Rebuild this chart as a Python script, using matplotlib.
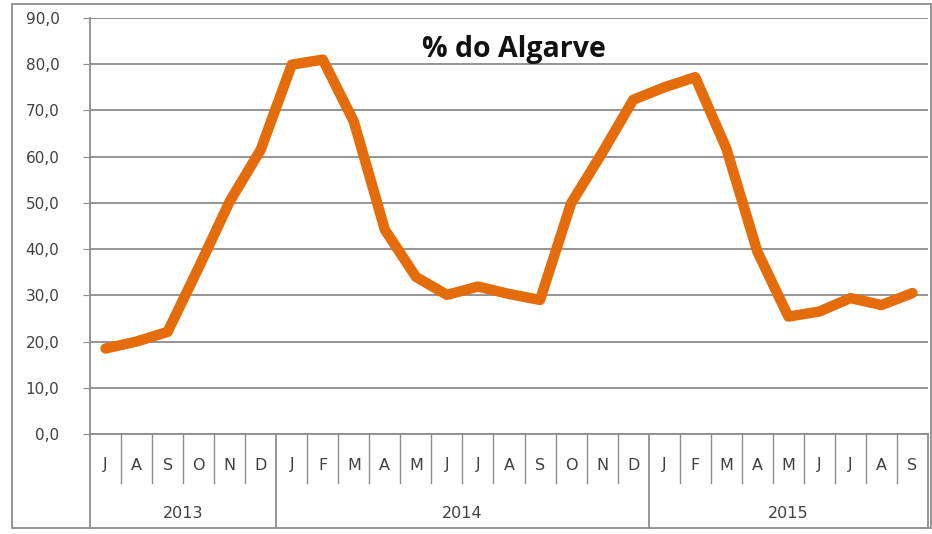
import matplotlib
matplotlib.use("Agg")
import matplotlib.pyplot as plt
from matplotlib.ticker import FuncFormatter, MultipleLocator
from matplotlib.patches import Rectangle
import matplotlib.transforms as mtransforms

months = ["J", "A", "S", "O", "N", "D",
          "J", "F", "M", "A", "M", "J", "J", "A", "S", "O", "N", "D",
          "J", "F", "M", "A", "M", "J", "J", "A", "S"]
years = ["2013", "2014", "2015"]
year_counts = [6, 12, 9]
values = [18.5, 20.0, 22.1, 36.0, 50.3, 61.5,
          79.9, 81.0, 67.6, 44.2, 34.0, 30.1, 31.9, 30.3, 29.0, 49.9, 60.8, 72.3,
          75.0, 77.2, 61.8, 39.5, 25.4, 26.5, 29.4, 27.9, 30.5]
title = "% do Algarve"

W, H = 932, 534
fig = plt.figure(figsize=(W / 100, H / 100), dpi=100)
ax = fig.add_axes([90 / W, (H - 434) / H, (928 - 90) / W, (434 - 18) / H])

grid_c = "#8c8c8c"
text_c = "#404040"

x = list(range(len(values)))
ax.plot(x, values, color="#E46C0A", lw=7.5, solid_joinstyle="round",
        solid_capstyle="round", zorder=3, clip_on=False)

ax.set_xlim(-0.5, len(values) - 0.5)
ax.set_ylim(0, 90)
ax.yaxis.set_major_locator(MultipleLocator(10))
ax.yaxis.set_major_formatter(FuncFormatter(lambda v, p: f"{v:.1f}".replace(".", ",")))
ax.grid(axis="y", color=grid_c, lw=1.3)
ax.set_axisbelow(True)
ax.tick_params(axis="y", length=5, color=grid_c, labelsize=11, labelcolor=text_c, pad=17)
ax.set_xticks([])
for s in ["top", "right"]:
    ax.spines[s].set_visible(False)
ax.spines["left"].set_color(grid_c)
ax.spines["bottom"].set_color(grid_c)
ax.spines["left"].set_linewidth(1.3)
ax.spines["bottom"].set_linewidth(1.3)

# category axis boxes
trans = mtransforms.blended_transform_factory(ax.transData, fig.transFigure)
y_axis = (H - 434) / H
y_month_bot = (H - 483) / H
y_bot = (H - 528) / H
y_month_txt = (H - 465) / H
y_year_txt = (H - 513) / H

boundaries_year = [-0.5]
for c in year_counts:
    boundaries_year.append(boundaries_year[-1] + c)

for i in range(len(months) + 1):
    xb = i - 0.5
    if xb in boundaries_year:
        ax.plot([xb, xb], [y_axis, y_bot], transform=trans, color=grid_c, lw=1.3, clip_on=False)
    else:
        ax.plot([xb, xb], [y_axis, y_month_bot], transform=trans, color=grid_c, lw=1.0, clip_on=False)

for i, m in enumerate(months):
    ax.text(i, y_month_txt, m, transform=trans, ha="center", va="center",
            fontsize=11.5, color=text_c)

for yl, a, b in zip(years, boundaries_year[:-1], boundaries_year[1:]):
    ax.text((a + b) / 2, y_year_txt, yl, transform=trans, ha="center", va="center",
            fontsize=11.5, color=text_c)

# outer border
fig.patches.append(Rectangle((12 / W, (H - 528) / H), (931 - 12) / W, (528 - 4) / H,
                             transform=fig.transFigure, fill=False,
                             edgecolor=grid_c, lw=1.3))

fig.text(514 / W, (H - 50) / H, title, ha="center", va="center",
         fontsize=20.5, fontweight="bold", family="Open Sans", color="#111111")

fig.savefig("out.png", dpi=100)
